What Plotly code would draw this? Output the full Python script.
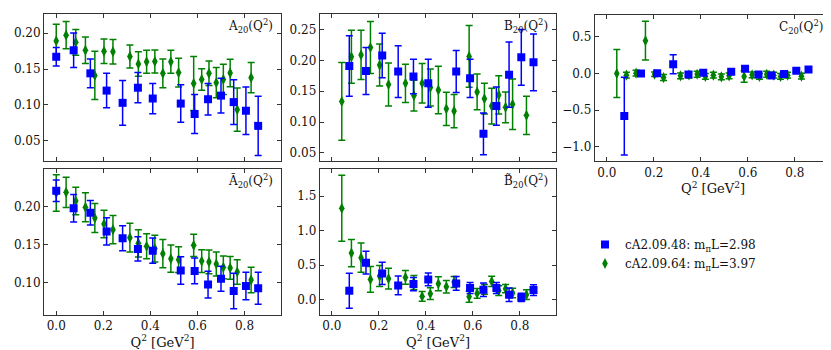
import plotly.graph_objects as go

# ---------------- data ----------------
q2_blue = [0.0, 0.074, 0.145, 0.214, 0.282, 0.347, 0.410, 0.529, 0.588, 0.645, 0.700, 0.754, 0.806, 0.858]
q2_green = [0.0, 0.042, 0.083, 0.124, 0.164, 0.203, 0.241, 0.313, 0.349, 0.384, 0.419, 0.453, 0.487, 0.520,
            0.584, 0.618, 0.649, 0.680, 0.710, 0.739, 0.769, 0.828]

# A20 (includes Q2=0)
A20_blue = [0.167, 0.176, 0.144, 0.120, 0.103, 0.124, 0.109, 0.102, 0.0875, 0.108, 0.113, 0.104, 0.092, 0.071]
A20_blue_err = [0.013, 0.024, 0.020, 0.024, 0.031, 0.021, 0.021, 0.026, 0.027, 0.022, 0.024, 0.031, 0.033, 0.041]
A20_green = [0.189, 0.197, 0.187, 0.176, 0.141, 0.1745, 0.174, 0.1675, 0.157, 0.160, 0.1605, 0.144, 0.160, 0.145,
             0.130, 0.1355, 0.144, 0.131, 0.1355, 0.1445, 0.0935, 0.138]
A20_green_err = [0.023, 0.019, 0.018, 0.0185, 0.0335, 0.017, 0.017, 0.016, 0.017, 0.016, 0.016, 0.020, 0.016, 0.020,
                 0.0375, 0.015, 0.017, 0.021, 0.021, 0.019, 0.030, 0.021]

# B20 (no Q2=0)
B20_blue = [0.191, 0.183, 0.208, 0.182, 0.174, 0.163, 0.182, 0.171, 0.081, 0.126, 0.177, 0.205, 0.197]
B20_blue_err = [0.049, 0.038, 0.036, 0.042, 0.028, 0.039, 0.034, 0.031, 0.034, 0.031, 0.053, 0.045, 0.046]
B20_green = [0.1335, 0.206, 0.209, 0.221, 0.1925, 0.161, 0.163, 0.143, 0.163, 0.156, 0.152, 0.1215, 0.118,
             0.2065, 0.149, 0.138, 0.126, 0.144, 0.124, 0.129, 0.111]
B20_green_err = [0.063, 0.043, 0.040, 0.042, 0.034, 0.035, 0.031, 0.025, 0.032, 0.030, 0.0385, 0.027, 0.027,
                 0.050, 0.029, 0.025, 0.029, 0.031, 0.025, 0.041, 0.031]

# C20 (no Q2=0)
C20_blue = [-0.583, 0.0, 0.005, 0.128, -0.014, 0.009, 0.023, 0.064, -0.014, -0.028, -0.005, 0.037, 0.055]
C20_blue_err = [0.532, 0.02, 0.02, 0.13, 0.03, 0.03, 0.02, 0.02, 0.03, 0.03, 0.03, 0.02, 0.02]
C20_green = [0.0, -0.023, 0.005, 0.45, -0.01, -0.055, -0.032, -0.02, -0.01, -0.04, -0.023, -0.046, -0.032,
             -0.041, -0.018, -0.04, -0.01, -0.023, -0.04, -0.023, -0.036]
C20_green_err = [0.328, 0.04, 0.04, 0.266, 0.03, 0.04, 0.04, 0.04, 0.04, 0.04, 0.04, 0.04, 0.04,
                 0.08, 0.04, 0.04, 0.04, 0.04, 0.04, 0.04, 0.04]

# tilde A20 (includes Q2=0)
tA20_blue = [0.2205, 0.1975, 0.1915, 0.167, 0.158, 0.144, 0.1417, 0.1155, 0.115, 0.097, 0.1048, 0.0886, 0.0952, 0.0921]
tA20_blue_err = [0.014, 0.018, 0.016, 0.018, 0.0165, 0.016, 0.0165, 0.018, 0.017, 0.0175, 0.0165, 0.0235, 0.018, 0.021]
tA20_green = [0.2175, 0.2184, 0.207, 0.1987, 0.1846, 0.1768, 0.1693, 0.1588, 0.1513, 0.1474, 0.1443, 0.1377, 0.1311,
              0.1298, 0.1487, 0.128, 0.1268, 0.1241, 0.1197, 0.1189, 0.1136, 0.1031]
tA20_green_err = [0.024, 0.020, 0.018, 0.019, 0.019, 0.018, 0.0186, 0.019, 0.018, 0.0165, 0.0175, 0.0186, 0.018,
                  0.017, 0.0147, 0.015, 0.0156, 0.0158, 0.015, 0.015, 0.016, 0.0167]

# tilde B20 (no Q2=0)
tB20_blue = [0.131, 0.537, 0.382, 0.208, 0.227, 0.295, 0.237, 0.169, 0.145, 0.169, 0.073, 0.034, 0.14]
tB20_blue_err = [0.254, 0.165, 0.162, 0.135, 0.097, 0.094, 0.099, 0.08, 0.097, 0.08, 0.097, 0.06, 0.077]
tB20_green = [1.326, 0.677, 0.61, 0.295, 0.343, 0.305, 0.324, 0.25, 0.048, 0.087, 0.232, 0.189, 0.256,
              0.044, 0.092, 0.15, 0.266, 0.131, 0.16, 0.097, 0.073]
tB20_green_err = [0.479, 0.198, 0.213, 0.186, 0.152, 0.15, 0.1, 0.1, 0.07, 0.085, 0.1, 0.09, 0.08,
                  0.08, 0.07, 0.07, 0.075, 0.07, 0.06, 0.07, 0.07]

labels_blue = "cA2.09.48: m<sub>π</sub>L=2.98"
labels_green = "cA2.09.64: m<sub>π</sub>L=3.97"

panel_titles = ["A<sub>20</sub>(Q<sup>2</sup>)", "B<sub>20</sub>(Q<sup>2</sup>)", "C<sub>20</sub>(Q<sup>2</sup>)",
                "Ã<sub>20</sub>(Q<sup>2</sup>)", "B̃<sub>20</sub>(Q<sup>2</sup>)"]
x_title = "Q<sup>2</sup> [GeV<sup>2</sup>]"

# ---------------- layout helpers ----------------
W, H = 831, 350
FONT = "DejaVu Serif"
BLUE = "#0000ff"
GREEN = "#008000"
FRAME = "#333333"
TXT = "#111111"

def xd(a, b):
    return [a / W, b / W]

def yd(top, bottom):
    return [1 - bottom / H, 1 - top / H]

panels = [
    (xd(36, 273), yd(6, 153), [0.0222, 0.2264], [0.05, 0.10, 0.15, 0.20], ".2f", False),
    (xd(311.7, 548.3), yd(6, 153), [0.037, 0.2753], [0.05, 0.10, 0.15, 0.20, 0.25], ".2f", False),
    (xd(586.7, 823.3), yd(6.5, 153.3), [-1.202, 0.808], [-1.0, -0.5, 0.0, 0.5], ".1f", True),
    (xd(36, 273), yd(160.7, 306.7), [0.0574, 0.2495], [0.10, 0.15, 0.20], ".2f", True),
    (xd(311.7, 548.3), yd(160.7, 306.7), [-0.217, 1.9], [0.0, 0.5, 1.0, 1.5], ".1f", True),
]

series = [
    (q2_blue, A20_blue, A20_blue_err, q2_green, A20_green, A20_green_err),
    (q2_blue[1:], B20_blue, B20_blue_err, q2_green[1:], B20_green, B20_green_err),
    (q2_blue[1:], C20_blue, C20_blue_err, q2_green[1:], C20_green, C20_green_err),
    (q2_blue, tA20_blue, tA20_blue_err, q2_green, tA20_green, tA20_green_err),
    (q2_blue[1:], tB20_blue, tB20_blue_err, q2_green[1:], tB20_green, tB20_green_err),
]

fig = go.Figure()
layout = {}
annotations = []
XR = [-0.052, 0.955]
xticks = [0.0, 0.2, 0.4, 0.6, 0.8]

for i, (p, s) in enumerate(zip(panels, series)):
    n = i + 1
    xa = "x" if n == 1 else f"x{n}"
    ya = "y" if n == 1 else f"y{n}"
    xdom, ydom, yr, yt, yfmt, showx = p
    qb, vb, eb, qg, vg, eg = s
    fig.add_trace(go.Scatter(
        x=qg, y=vg, mode="markers", xaxis=xa, yaxis=ya,
        name=labels_green, showlegend=(n == 1), legendrank=2,
        marker=dict(symbol="diamond-tall", size=8, color=GREEN, line=dict(width=0)),
        error_y=dict(type="data", array=eg, visible=True, color=GREEN, thickness=1.5, width=3.5),
    ))
    fig.add_trace(go.Scatter(
        x=qb, y=vb, mode="markers", xaxis=xa, yaxis=ya,
        name=labels_blue, showlegend=(n == 1), legendrank=1,
        marker=dict(symbol="square", size=8, color=BLUE, line=dict(width=0)),
        error_y=dict(type="data", array=eb, visible=True, color=BLUE, thickness=1.5, width=3.5),
    ))
    common = dict(showline=True, linecolor=FRAME, linewidth=1, mirror="ticks", ticks="inside",
                  ticklen=4, tickcolor=FRAME, tickwidth=1, showgrid=False, zeroline=False,
                  tickfont=dict(family=FONT, size=12, color=TXT))
    xkey = "xaxis" if n == 1 else f"xaxis{n}"
    ykey = "yaxis" if n == 1 else f"yaxis{n}"
    layout[xkey] = dict(domain=xdom, range=XR, anchor=ya, tickvals=xticks, tickformat=".1f",
                        showticklabels=showx,
                        title=dict(text=x_title if showx else None, font=dict(family=FONT, size=13, color=TXT),
                                   standoff=3),
                        **common)
    layout[ykey] = dict(domain=ydom, range=yr, anchor=xa, tickvals=yt, tickformat=yfmt, **common)
    annotations.append(dict(text=panel_titles[i], xref=f"{xa} domain", yref=f"{ya} domain",
                            x=0.975, y=1.0, xanchor="right", yanchor="top", yshift=-1, showarrow=False,
                            font=dict(family=FONT, size=12, color=TXT)))

fig.update_layout(
    width=W, height=H, autosize=False,
    margin=dict(l=0, r=0, t=0, b=0),
    paper_bgcolor="white", plot_bgcolor="white",
    annotations=annotations,
    legend=dict(x=577 / W, y=1 - 222 / H, xanchor="left", yanchor="top",
                font=dict(family=FONT, size=12, color=TXT), bgcolor="rgba(0,0,0,0)",
                tracegroupgap=0, itemwidth=30),
    **layout,
)

fig.write_html("out.html")
